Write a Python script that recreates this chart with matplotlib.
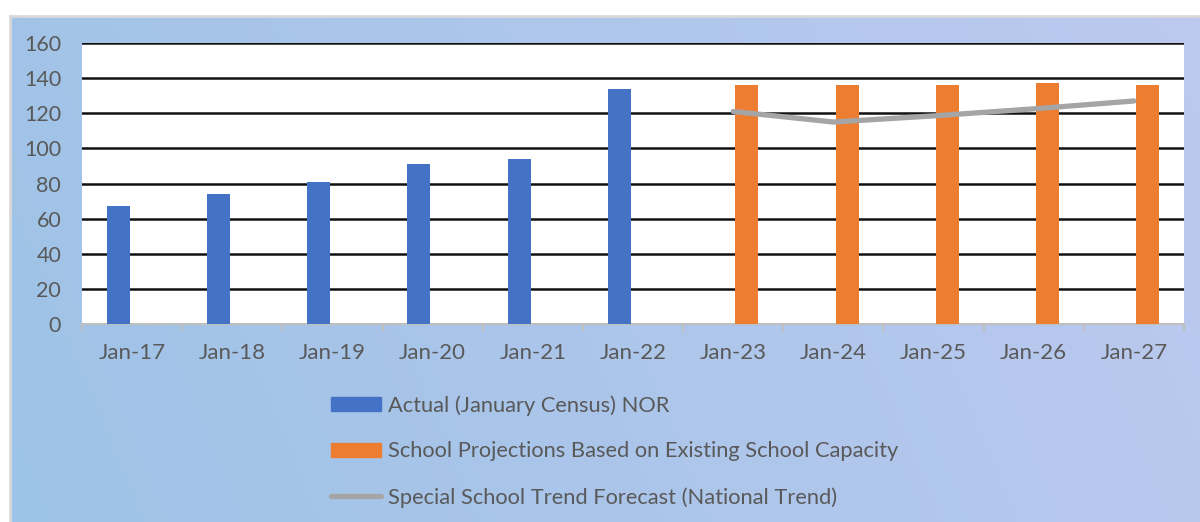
import matplotlib.pyplot as plt
import numpy as np
from matplotlib.lines import Line2D
from matplotlib.patches import Patch

plt.rcParams['font.family'] = ['Lato', 'DejaVu Sans']

categories = ['Jan-17', 'Jan-18', 'Jan-19', 'Jan-20', 'Jan-21', 'Jan-22',
              'Jan-23', 'Jan-24', 'Jan-25', 'Jan-26', 'Jan-27']
actual = [67, 74, 81, 91, 94, 134]
projections = [136, 136, 136, 137, 136]
trend = [121, 115, 118.5, 122.5, 127]

lab_actual = 'Actual (January Census) NOR'
lab_proj = 'School Projections Based on Existing School Capacity'
lab_trend = 'Special School Trend Forecast (National Trend)'

text_col = '#595959'
blue = '#4472C4'
orange = '#ED7D31'
grey = '#A5A5A5'

W, H = 1200, 522
fig = plt.figure(figsize=(W / 100, H / 100), dpi=100)
fig.patch.set_facecolor('white')

# gradient background
bg = fig.add_axes([10 / W, 0, 1 - 10 / W, 1 - 16 / H])
gx = np.linspace(0, 1, 300)
gy = np.linspace(0, 1, 150)
X, Y = np.meshgrid(gx, gy)
t = np.clip(0.85 * X + 0.15 * (1 - Y), 0, 1)
c0 = np.array([157, 195, 230]) / 255
c1 = np.array([189, 201, 239]) / 255
img = c0[None, None, :] * (1 - t[..., None]) + c1[None, None, :] * t[..., None]
bg.imshow(img, aspect='auto', extent=[0, 1, 0, 1], origin='upper')
bg.set_axis_off()

# thin grey frame on top / left
fig.add_artist(Line2D([9.5 / W, 1], [1 - 16 / H, 1 - 16 / H], color='#D9D9D9', lw=2))
fig.add_artist(Line2D([10 / W, 10 / W], [0, 1 - 16 / H], color='#D9D9D9', lw=2))

ax = fig.add_axes([82 / W, 1 - 324 / H, 1102 / W, 281 / H])
ax.set_facecolor('white')

x = np.arange(len(categories))
w = 0.23
off = 0.137
ax.bar(x[:len(actual)] - off, actual, width=w, color=blue, label=lab_actual, zorder=3)
ax.bar(x[len(actual):] + off, projections, width=w, color=orange, label=lab_proj, zorder=3)
ax.plot(x[len(actual):], trend, color=grey, lw=3.8, solid_capstyle='round', label=lab_trend, zorder=4)

ax.set_xlim(-0.5, len(categories) - 0.5)
ax.set_ylim(0, 160)
ax.set_yticks(np.arange(0, 161, 20))
ax.set_xticks(x)
ax.set_xticklabels(categories)
ax.set_xticks(np.arange(-0.5, len(categories), 1), minor=True)
ax.tick_params(axis='x', which='major', length=0, pad=14, labelsize=16, labelcolor=text_col)
ax.tick_params(axis='x', which='minor', length=5, width=1.5, color='#BFBFBF')
ax.tick_params(axis='y', length=0, pad=15, labelsize=15.5, labelcolor=text_col)
for s in ['top', 'right', 'left']:
    ax.spines[s].set_visible(False)
ax.spines['bottom'].set_color('#BFBFBF')
ax.spines['bottom'].set_linewidth(1.5)
ax.yaxis.grid(True, color='#111111', lw=1.8, zorder=1)
ax.set_axisbelow(True)
for gl in ax.get_ygridlines()[:1]:
    gl.set_visible(False)

handles = [Patch(color=blue), Patch(color=orange),
           Line2D([0], [0], color=grey, lw=3.8, solid_capstyle='round')]
fig.legend(handles, [lab_actual, lab_proj, lab_trend], loc='upper left',
           bbox_to_anchor=(331 / W, 1 - 395 / H), frameon=False, fontsize=15.75,
           labelcolor=text_col, handlelength=2.3, handleheight=0.6, handletextpad=0.3,
           labelspacing=1.18, borderpad=0, borderaxespad=0)

fig.savefig('out.png', dpi=100)
